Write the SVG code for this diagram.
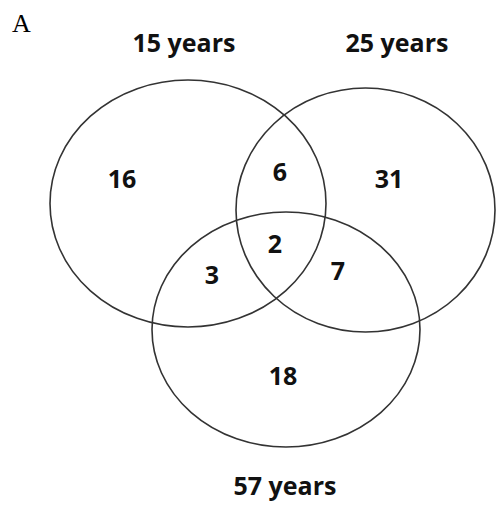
<svg xmlns="http://www.w3.org/2000/svg" width="496" height="506" viewBox="0 0 496 506">
<style>
.set{fill:none;stroke:#333;stroke-width:1.6}
.lbl{font-family:"Open Sans","Liberation Sans",sans-serif;font-weight:bold;font-size:25px;fill:#111;text-anchor:middle}
.num{font-family:"Open Sans","Liberation Sans",sans-serif;font-weight:bold;font-size:25px;fill:#111;text-anchor:middle}
.panel{font-family:"Liberation Serif",serif;font-size:26px;fill:#000}
</style>
<rect width="496" height="506" fill="#fff"/>
<text class="panel" x="12" y="32">A</text>
<g id="set-15">
<ellipse class="set" cx="188" cy="203.5" rx="138" ry="123.5"/>
<text class="lbl" x="184" y="52">15 years</text>
</g>
<g id="set-25">
<ellipse class="set" cx="365.5" cy="210" rx="129.5" ry="122"/>
<text class="lbl" x="397" y="52">25 years</text>
</g>
<g id="set-57">
<ellipse class="set" cx="286" cy="329.5" rx="134" ry="117.5"/>
<text class="lbl" x="285" y="495">57 years</text>
</g>
<g id="regions">
<text class="num" x="122" y="188">16</text>
<text class="num" x="280" y="181">6</text>
<text class="num" x="389" y="188">31</text>
<text class="num" x="275" y="253">2</text>
<text class="num" x="212" y="284">3</text>
<text class="num" x="338" y="280">7</text>
<text class="num" x="283" y="385">18</text>
</g>
</svg>
